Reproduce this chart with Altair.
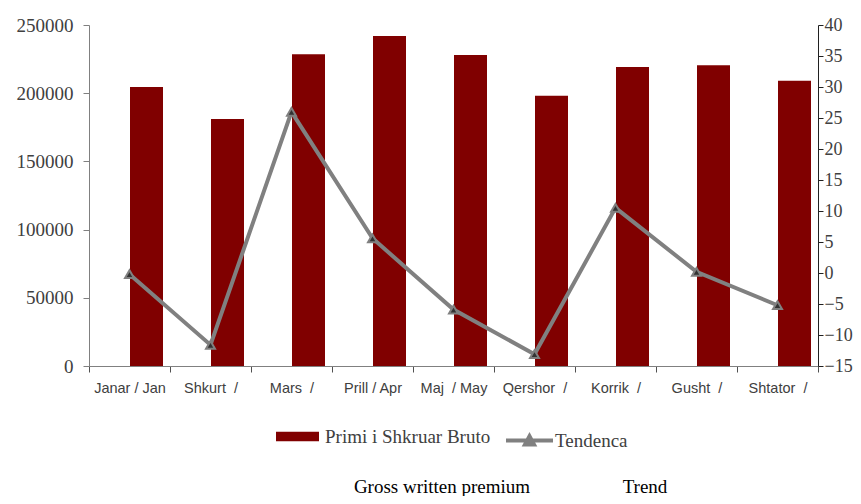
import altair as alt
import pandas as pd

months = ["Janar / Jan", "Shkurt\u00a0\u00a0/", "Mars\u00a0\u00a0/", "Prill / Apr",
          "Maj\u00a0\u00a0/ May", "Qershor\u00a0\u00a0/", "Korrik\u00a0\u00a0/",
          "Gusht\u00a0\u00a0/", "Shtator\u00a0\u00a0/"]
premium = [204500, 181100, 228500, 241900, 228000, 198100, 219200, 220400, 209100]
trend = [-0.2, -11.6, 26.0, 5.6, -5.9, -13.1, 10.5, 0.2, -5.2]
bar_series = "Primi i Shkruar Bruto"
line_series = "Tendenca"
premium_ticks = [0, 50000, 100000, 150000, 200000, 250000]
trend_ticks = [-15, -10, -5, 0, 5, 10, 15, 20, 25, 30, 35, 40]
footnotes = ["Gross written premium", "Trend"]

df = pd.DataFrame({"month": months, "premium": premium, "trend": trend,
                   "s1": bar_series, "s2": line_series})

SERIF = "Liberation Serif"
SANS = "Liberation Sans"

x = alt.X("month:N", sort=months, title=None,
          scale=alt.Scale(paddingInner=0, paddingOuter=0),
          axis=alt.Axis(tickBand="extent", labelAngle=0, labelFont=SANS,
                        labelFontSize=14.5, labelColor="#404040",
                        domainColor="#808080", tickColor="#505050",
                        tickSize=6, labelPadding=9))

bars = alt.Chart(df).mark_bar(size=33, xOffset=17).encode(
    x=x,
    y=alt.Y("premium:Q", title=None,
            scale=alt.Scale(domain=[0, 250000], nice=False, zero=True),
            axis=alt.Axis(values=premium_ticks, format="d", grid=False,
                          labelFont=SERIF, labelFontSize=19, labelColor="#404040",
                          domainColor="#808080", tickColor="#808080",
                          tickSize=6, labelPadding=10, orient="left")),
    fill=alt.Fill("s1:N", scale=alt.Scale(range=["#800000"]),
                  legend=alt.Legend(title=None, orient="none", legendX=187, legendY=390,
                                    symbolType="M-1,-0.22H1V0.22H-1Z", symbolSize=1849,
                                    symbolStrokeWidth=0, labelFont=SERIF, labelFontSize=19,
                                    labelColor="#404040", padding=0, labelOffset=6,
                                    labelLimit=400)),
)

yr = alt.Y("trend:Q", title=None,
           scale=alt.Scale(domain=[-15, 40], nice=False, zero=False),
           axis=alt.Axis(values=trend_ticks, grid=False, orient="right",
                         labelFont=SERIF, labelFontSize=18, labelColor="#404040",
                         domainColor="#202020", tickColor="#202020",
                         tickSize=5, labelPadding=1))

line = alt.Chart(df).mark_line(strokeWidth=4).encode(
    x=x, y=yr,
    stroke=alt.Stroke("s2:N", scale=alt.Scale(range=["#808080"]),
                      legend=alt.Legend(title=None, orient="none", legendX=415, legendY=390,
                                        symbolType="M-1,0H1M-0.19,0.17L0,-0.18L0.19,0.17Z",
                                        symbolSize=2209, symbolStrokeWidth=4,
                                        symbolFillColor="#333333",
                                        labelFont=SERIF, labelFontSize=19,
                                        labelColor="#404040", padding=0, labelOffset=0,
                                        labelLimit=400)),
)
points = alt.Chart(df).mark_point(shape="triangle-up", filled=True, fill="#333333",
                                  stroke="#808080", strokeWidth=2, size=80,
                                  opacity=1).encode(x=x, y=yr)

note1 = alt.Chart(pd.DataFrame({"t": [footnotes[0]]})).mark_text(
    font=SERIF, fontSize=19, color="#000000", align="center", baseline="alphabetic"
).encode(text="t:N", x=alt.value(353), y=alt.value(468))
note2 = alt.Chart(pd.DataFrame({"t": [footnotes[1]]})).mark_text(
    font=SERIF, fontSize=19, color="#000000", align="center", baseline="alphabetic"
).encode(text="t:N", x=alt.value(556), y=alt.value(468))

chart = alt.layer(bars, alt.layer(line, points), note1, note2).resolve_scale(
    y="independent", fill="independent", stroke="independent"
).properties(
    width=729, height=341,
    autosize=alt.AutoSizeParams(type="none"),
    padding={"left": 81, "top": 17, "right": 35, "bottom": 130},
).configure_view(stroke=None)

chart.save("out.html", embed_options={"renderer": "svg", "actions": False})
